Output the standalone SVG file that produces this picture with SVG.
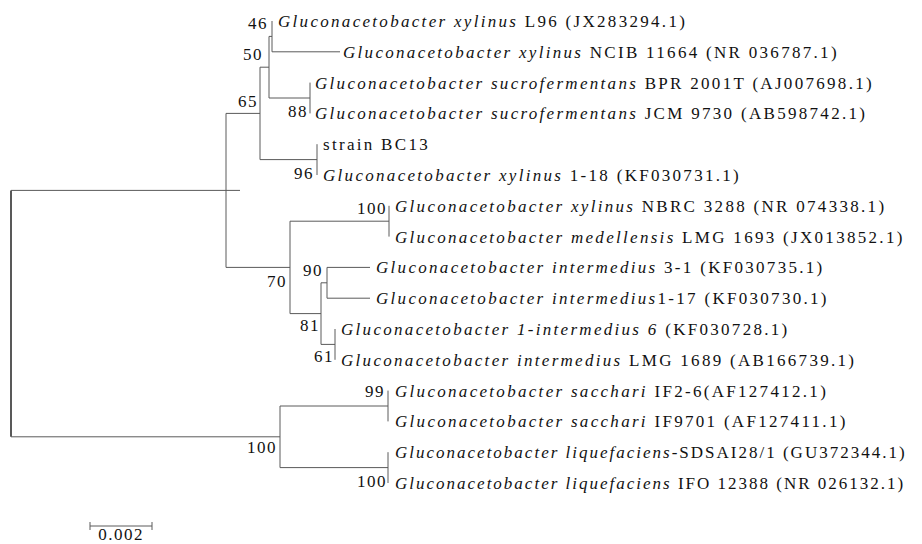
<svg xmlns="http://www.w3.org/2000/svg" width="922" height="544" viewBox="0 0 922 544">
<style>
text{font-family:"Liberation Serif","Times New Roman",serif;font-size:17px;fill:#111;letter-spacing:2.3px}
.i{font-style:italic}
.t{letter-spacing:2px}
.bs{letter-spacing:1.5px}
.br{fill:none;stroke:#5a5a5a;stroke-width:1}
.root{fill:none;stroke:#222;stroke-width:1.5}
</style>
<rect width="922" height="544" fill="#fff"/>
<g id="connectors">
<path class="root" d="M11,190.4V436.8"/>
<path class="br" d="M11,190.4H240M11,436.8H280"/>
<path class="br" d="M226,113.4V267.4M226,113.4H260M226,267.4H290"/>
<path class="br" d="M260,67.2V159.6M260,67.2H269M260,159.6H317"/>
<path class="br" d="M269,36.4V98M269,36.4H272M269,98H310"/>
<path class="br" d="M272,21V51.8M272,51.8H340"/>
<path class="br" d="M310,82.6V113.4"/>
<path class="br" d="M317,144.2V175"/>
<path class="br" d="M290,221.2V313.6M290,221.2H389M290,313.6H321"/>
<path class="br" d="M389,205.8V236.6"/>
<path class="br" d="M321,282.8V344.4M321,282.8H327M321,344.4H335"/>
<path class="br" d="M327,267.4V298.2M327,267.4H370M327,298.2H370"/>
<path class="br" d="M335,329V359.8"/>
<path class="br" d="M280,406V467.6M280,406H388M280,467.6H388"/>
<path class="br" d="M388,390.6V421.4"/>
<path class="br" d="M388,452.2V483"/>
</g>
<g id="leaf1"><text x="278" y="27"><tspan class="i">Gluconacetobacter xylinus</tspan> L96 (JX283294.1)</text></g>
<g id="leaf2"><text x="343" y="57.8"><tspan class="i">Gluconacetobacter xylinus</tspan> NCIB 11664 (NR 036787.1)</text></g>
<g id="leaf3"><text x="315" y="88.6"><tspan class="i">Gluconacetobacter sucrofermentans</tspan> BPR 2001T (AJ007698.1)</text></g>
<g id="leaf4"><text x="315" y="119.4"><tspan class="i">Gluconacetobacter sucrofermentans</tspan> JCM 9730 (AB598742.1)</text></g>
<g id="leaf5"><text x="323" y="150.2">strain BC13</text></g>
<g id="leaf6"><text x="323" y="181"><tspan class="i">Gluconacetobacter xylinus</tspan> 1-18 (KF030731.1)</text></g>
<g id="leaf7"><text x="395" y="211.8"><tspan class="i">Gluconacetobacter xylinus</tspan> NBRC 3288 (NR 074338.1)</text></g>
<g id="leaf8"><text x="395" y="242.6"><tspan class="i">Gluconacetobacter medellensis</tspan> LMG 1693 (JX013852.1)</text></g>
<g id="leaf9"><text x="376" y="273.4"><tspan class="i">Gluconacetobacter intermedius</tspan> 3-1 (KF030735.1)</text></g>
<g id="leaf10"><text x="376" y="304.2"><tspan class="i">Gluconacetobacter intermedius</tspan>1-17 (KF030730.1)</text></g>
<g id="leaf11"><text x="341" y="335"><tspan class="i">Gluconacetobacter 1-intermedius 6</tspan> (KF030728.1)</text></g>
<g id="leaf12"><text x="341" y="365.8"><tspan class="i">Gluconacetobacter intermedius</tspan> LMG 1689 (AB166739.1)</text></g>
<g id="leaf13"><text x="395" y="396.6"><tspan class="i">Gluconacetobacter sacchari</tspan> IF2-6(AF127412.1)</text></g>
<g id="leaf14"><text x="395" y="427.4"><tspan class="i">Gluconacetobacter sacchari</tspan> IF9701 (AF127411.1)</text></g>
<g id="leaf15"><text class="t" x="395" y="458.2"><tspan class="i">Gluconacetobacter liquefaciens</tspan>-SDSAI28/1 (GU372344.1)</text></g>
<g id="leaf16"><text class="t" x="395" y="489"><tspan class="i">Gluconacetobacter liquefaciens</tspan> IFO 12388 (NR 026132.1)</text></g>
<g id="bootstrap">
<text class="bs" x="248" y="29">46</text>
<text class="bs" x="243" y="60">50</text>
<text class="bs" x="238" y="107">65</text>
<text class="bs" x="288" y="117">88</text>
<text class="bs" x="294" y="179">96</text>
<text class="bs" x="357" y="214">100</text>
<text class="bs" x="267" y="287">70</text>
<text class="bs" x="303" y="276">90</text>
<text class="bs" x="300" y="331">81</text>
<text class="bs" x="314" y="362">61</text>
<text class="bs" x="365" y="397">99</text>
<text class="bs" x="247" y="453">100</text>
<text class="bs" x="357" y="487">100</text>
</g>
<g id="scalebar">
<path class="br" d="M90,526H152M90,522V530M152,522V530"/>
<text class="bs" x="121" y="540" text-anchor="middle">0.002</text>
</g>
</svg>
